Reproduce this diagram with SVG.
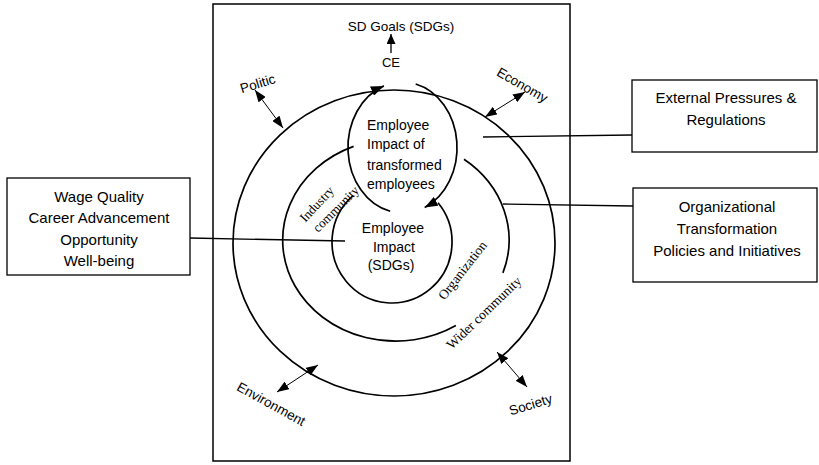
<svg xmlns="http://www.w3.org/2000/svg" width="819" height="465" viewBox="0 0 819 465">
  <style>
    .bg { fill: #ffffff; }
    .box { fill: #ffffff; stroke: #000000; stroke-width: 1.3; }
    .ring { fill: none; stroke: #000000; stroke-width: 1.7; }
    .link { fill: none; stroke: #000000; stroke-width: 1.3; }
    .dbl { fill: none; stroke: #000000; stroke-width: 1; marker-start: url(#headS); marker-end: url(#headS); }
    .sans { font-family: "Liberation Sans", Arial, sans-serif; fill: #000000; }
    .serif { font-family: "Liberation Serif", "Times New Roman", serif; fill: #000000; }
    .mid { text-anchor: middle; }
  </style>
  <defs>
    <marker id="headL" markerUnits="userSpaceOnUse" markerWidth="13" markerHeight="10" refX="13" refY="5" orient="auto">
      <path d="M0,0 L13,5 L0,10 Z" fill="#000000"/>
    </marker>
    <marker id="headS" markerUnits="userSpaceOnUse" markerWidth="12" markerHeight="9" refX="12" refY="4.5" orient="auto-start-reverse">
      <path d="M0,0 L12,4.5 L0,9 Z" fill="#000000"/>
    </marker>
    <marker id="headT" markerUnits="userSpaceOnUse" markerWidth="10" markerHeight="9" refX="10" refY="4.5" orient="auto">
      <path d="M0,0 L10,4.5 L0,9 Z" fill="#000000"/>
    </marker>
  </defs>

  <rect class="bg" x="0" y="0" width="819" height="465"/>

  <!-- main frame -->
  <rect id="frame" x="213" y="4" width="357" height="457" fill="none" stroke="#000000" stroke-width="1.5"/>

  <!-- nested spheres of impact -->
  <g id="rings">
    <ellipse id="outer-ring" class="ring" cx="394" cy="243" rx="161" ry="153"/>
    <path id="middle-ring-a" class="ring" d="M353.6,146.4 A113,101 0 1 0 455.9,325.6"/>
    <path id="middle-ring-b" class="ring" d="M464,159.3 A113,101 0 0 1 502.9,272.9"/>
    <path id="inner-ring" class="ring" d="M353.4,195.3 A60,61 0 1 0 438,202.8"/>
  </g>

  <!-- connectors -->
  <g id="connectors">
    <path class="ring" d="M390.2,211.3 A54.5,65.5 0 0 1 383.9,85.9" marker-end="url(#headL)"/>
    <path class="ring" d="M415.7,84 A54.5,65.5 0 0 1 424.7,207.4" marker-end="url(#headL)"/>
    <line class="link" x1="391" y1="53" x2="391" y2="34" marker-end="url(#headT)"/>
    <line class="dbl" x1="255" y1="90" x2="283" y2="128"/>
    <line class="dbl" x1="485" y1="117" x2="525" y2="92"/>
    <line class="dbl" x1="277" y1="392" x2="318" y2="365"/>
    <line class="dbl" x1="497" y1="352" x2="527" y2="387"/>
    <line class="link" x1="190" y1="238" x2="345" y2="241"/>
    <line class="link" x1="483" y1="137" x2="632" y2="135"/>
    <line class="link" x1="503" y1="204" x2="633" y2="206"/>
  </g>

  <g id="sd-goals">
    <text class="sans mid" x="401" y="31" font-size="13.5">SD Goals (SDGs)</text>
  </g>
  <g id="ce">
    <text class="sans mid" x="391" y="67" font-size="13">CE</text>
  </g>

  <g id="transformed-employees">
    <text class="sans" x="367" y="130" font-size="14">Employee</text>
    <text class="sans" x="367" y="149" font-size="14">Impact of</text>
    <text class="sans" x="367" y="170" font-size="14">transformed</text>
    <text class="sans" x="367" y="189" font-size="14">employees</text>
  </g>

  <g id="employee-impact">
    <text class="sans mid" x="393" y="233" font-size="14">Employee</text>
    <text class="sans mid" x="394" y="252" font-size="14">Impact</text>
    <text class="sans mid" x="391" y="270" font-size="14">(SDGs)</text>
  </g>

  <g id="ring-labels">
    <text class="serif mid" font-size="13" transform="translate(320,207) rotate(-47)">Industry</text>
    <text class="serif mid" font-size="13" transform="translate(339,212) rotate(-45)">community</text>
    <text class="serif mid" font-size="13.5" transform="translate(466,273) rotate(-52)">Organization</text>
    <text class="serif mid" font-size="13.5" transform="translate(487,316) rotate(-44)">Wider community</text>
  </g>

  <g id="context-labels">
    <text class="sans mid" font-size="13.5" transform="translate(259,88) rotate(-17)">Politic</text>
    <text class="sans mid" font-size="13.5" transform="translate(520,89) rotate(30)">Economy</text>
    <text class="sans mid" font-size="13.5" transform="translate(269,408) rotate(29)">Environment</text>
    <text class="sans mid" font-size="13.5" transform="translate(532,409) rotate(-17)">Society</text>
  </g>

  <g id="employee-outcomes">
    <rect class="box" x="7" y="178" width="183" height="97"/>
    <text class="sans mid" x="99" y="202" font-size="15">Wage Quality</text>
    <text class="sans mid" x="99" y="223" font-size="15">Career Advancement</text>
    <text class="sans mid" x="99" y="245" font-size="15">Opportunity</text>
    <text class="sans mid" x="99" y="266" font-size="15">Well-being</text>
  </g>

  <g id="external-pressures">
    <rect class="box" x="632" y="80" width="185" height="72"/>
    <text class="sans mid" x="726" y="103" font-size="15">External Pressures &amp;</text>
    <text class="sans mid" x="726" y="125" font-size="15">Regulations</text>
  </g>

  <g id="organizational-transformation">
    <rect class="box" x="633" y="188" width="184" height="94"/>
    <text class="sans mid" x="727" y="212" font-size="15">Organizational</text>
    <text class="sans mid" x="727" y="234" font-size="15">Transformation</text>
    <text class="sans mid" x="727" y="256" font-size="15">Policies and Initiatives</text>
  </g>
</svg>
